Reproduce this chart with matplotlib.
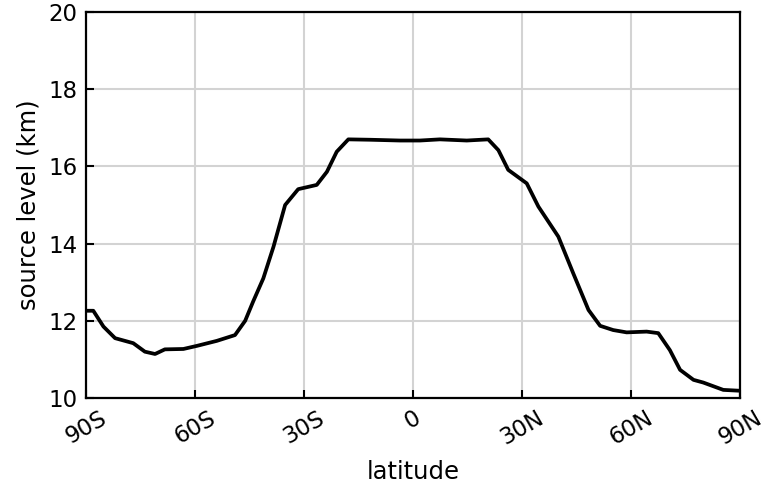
import matplotlib
matplotlib.use("Agg")
import matplotlib.pyplot as plt

# zonal-mean source level by latitude
lat = [-90, -88, -85.2, -82, -77, -73.8, -71, -68.3, -63.2, -59.5, -54, -49,
       -46.2, -44, -41.2, -38.4, -35.2, -31.6, -26.5, -23.7, -21, -17.8,
       -11.8, -3.6, 1.9, 7.4, 14.8, 20.7, 23.5, 26.2, 31.3, 34.5, 40, 44.1,
       48.3, 51.5, 55.1, 58.8, 64.3, 67.5, 70.7, 73.5, 77.2, 79.9, 85.4, 89.5, 90]
level = [12.26, 12.26, 11.85, 11.55, 11.42, 11.2, 11.14, 11.26, 11.27, 11.35,
         11.48, 11.63, 12.0, 12.5, 13.1, 13.92, 15.0, 15.41, 15.52, 15.86,
         16.38, 16.70, 16.69, 16.67, 16.67, 16.70, 16.67, 16.70, 16.42, 15.91,
         15.56, 14.96, 14.18, 13.23, 12.28, 11.87, 11.76, 11.70, 11.72, 11.68,
         11.24, 10.73, 10.47, 10.40, 10.21, 10.19, 10.19]

xticks = [-90, -60, -30, 0, 30, 60, 90]
xticklabels = ["90S", "60S", "30S", "0", "30N", "60N", "90N"]
yticks = [10, 12, 14, 16, 18, 20]

fig = plt.figure(figsize=(7.64, 4.93), dpi=100)
ax = fig.add_axes([0.1126, 0.1927, 0.856, 0.7830])

ax.plot(lat, level, color="black", lw=2.7, zorder=3,
        solid_joinstyle="round", solid_capstyle="round")

ax.set_xlim(-90, 90)
ax.set_ylim(10, 20)
ax.set_xticks(xticks)
ax.set_xticklabels(xticklabels, rotation=30, ha="center")
ax.set_yticks(yticks)
ax.grid(True, color="#d3d3d3", lw=1.5)
ax.set_axisbelow(True)
ax.tick_params(direction="in", length=6, width=1.5, labelsize=16.5, pad=6)
for s in ax.spines.values():
    s.set_linewidth(1.6)

ax.set_xlabel("latitude", fontsize=17.5, labelpad=8)
ax.set_ylabel("source level (km)", fontsize=17.5, labelpad=6)

fig.savefig("out.png", dpi=100)
